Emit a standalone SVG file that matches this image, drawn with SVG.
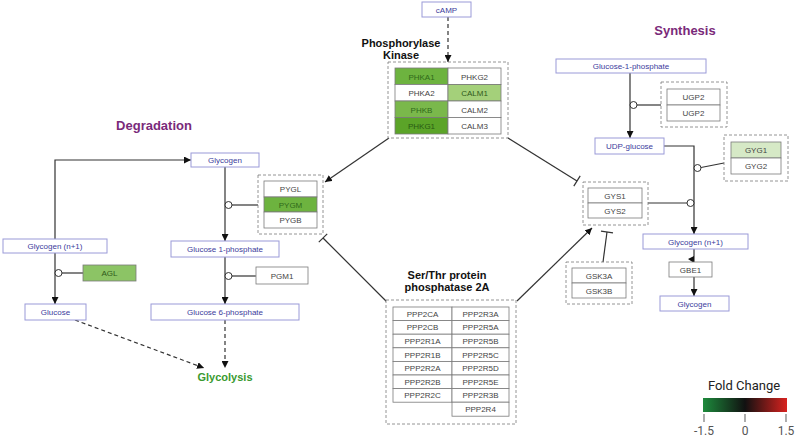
<svg xmlns="http://www.w3.org/2000/svg" width="800" height="444" viewBox="0 0 800 444">
<defs>
<style>
.cpd rect{fill:#fff;stroke:#9a9ad8;stroke-width:1}
.cpd text{font-family:"Liberation Sans",Arial,sans-serif;font-size:8px;fill:#3c3c9c;text-anchor:middle}
.gene rect{fill:#fff;stroke:#7a7a7a;stroke-width:0.8}
.gene text{font-family:"Liberation Sans",Arial,sans-serif;font-size:8px;fill:#444;text-anchor:middle}
.grp{fill:#fbfbf6;stroke:#c6c6b0;stroke-width:1;stroke-dasharray:3,2}
.edge{stroke:#333;stroke-width:1.2;fill:none}
.dash{stroke:#333;stroke-width:1.2;fill:none;stroke-dasharray:4,3}
.circ{fill:#fff;stroke:#333;stroke-width:1}
.title{font-family:"Liberation Sans",Arial,sans-serif;font-weight:bold;fill:#7a2a7a;font-size:13px;text-anchor:middle}
.lbl{font-family:"Liberation Sans",Arial,sans-serif;font-weight:bold;fill:#111;font-size:11px;text-anchor:middle}
.g1{fill:#6db33f !important}
.g2{fill:#5ba428 !important}
.g3{fill:#7ab84b !important}
.g4{fill:#a4d07a !important}
.g5{fill:#8cc465 !important}
.g6{fill:#d6e9c6 !important}
</style>
<marker id="arr" viewBox="0 0 10 10" refX="10" refY="5" markerWidth="7" markerHeight="7" markerUnits="userSpaceOnUse" orient="auto">
<path d="M0,0 L10,5 L0,10 z" fill="#111"/>
</marker>
<linearGradient id="fc" x1="0" y1="0" x2="1" y2="0">
<stop offset="0" stop-color="#1d8a3c"/>
<stop offset="0.5" stop-color="#111"/>
<stop offset="1" stop-color="#d8221f"/>
</linearGradient>
</defs>
<rect width="800" height="444" fill="#fff"/>

<text class="title" x="154" y="130">Degradation</text>
<text class="title" x="685" y="35">Synthesis</text>
<text class="lbl" x="401" y="47">Phosphorylase</text>
<text class="lbl" x="401" y="59">Kinase</text>
<text class="lbl" x="447" y="279">Ser/Thr protein</text>
<text class="lbl" x="447" y="291">phosphatase 2A</text>
<text x="225" y="381" font-family="Liberation Sans, Arial, sans-serif" font-weight="bold" font-size="11" fill="#3a9a30" text-anchor="middle">Glycolysis</text>

<g id="connectors">
<line class="dash" x1="448" y1="17" x2="448" y2="62" marker-end="url(#arr)"/>
<line class="edge" x1="389" y1="138" x2="325" y2="182" marker-end="url(#arr)"/>
<line class="edge" x1="508" y1="138" x2="577" y2="181"/>
<line class="edge" x1="573.8" y1="186.1" x2="580.2" y2="175.9"/>
<line class="edge" x1="387" y1="302" x2="323" y2="238"/>
<line class="edge" x1="327.2" y1="233.8" x2="318.8" y2="242.2"/>
<line class="edge" x1="517" y1="301" x2="592" y2="228" marker-end="url(#arr)"/>
<line class="edge" x1="603" y1="262" x2="607" y2="232"/>
<line class="edge" x1="601" y1="231.2" x2="613" y2="232.8"/>
<!-- degradation -->
<polyline class="edge" points="55,239 55,160 191,160" marker-end="url(#arr)"/>
<line class="edge" x1="55" y1="253" x2="55" y2="304" marker-end="url(#arr)"/>
<line class="edge" x1="62" y1="273" x2="83" y2="273"/>
<circle class="circ" cx="58.5" cy="273" r="3.5"/>
<line class="edge" x1="225" y1="167" x2="225" y2="241" marker-end="url(#arr)"/>
<line class="edge" x1="232" y1="205" x2="258" y2="205"/>
<circle class="circ" cx="228.5" cy="205" r="3.5"/>
<line class="edge" x1="225" y1="257" x2="225" y2="304" marker-end="url(#arr)"/>
<line class="edge" x1="232" y1="276" x2="256" y2="276"/>
<circle class="circ" cx="228.5" cy="276" r="3.5"/>
<line class="dash" x1="75" y1="320" x2="204" y2="368" marker-end="url(#arr)"/>
<line class="dash" x1="225" y1="320" x2="225" y2="368" marker-end="url(#arr)"/>
<!-- synthesis -->
<line class="edge" x1="630" y1="73" x2="630" y2="138" marker-end="url(#arr)"/>
<line class="edge" x1="637" y1="105" x2="661" y2="105"/>
<circle class="circ" cx="633.5" cy="105" r="3.5"/>
<polyline class="edge" points="664,146 694,146 694,234" marker-end="url(#arr)"/>
<line class="edge" x1="701" y1="167.5" x2="724" y2="163"/>
<circle class="circ" cx="697.5" cy="168" r="3.5"/>
<line class="edge" x1="648" y1="203" x2="687" y2="203"/>
<circle class="circ" cx="690.5" cy="203" r="3.5"/>
<line class="edge" x1="694" y1="249" x2="694" y2="262"/>
<polygon points="688,259 694,256 694,263" fill="#111"/>
<line class="edge" x1="694" y1="277" x2="694" y2="296" marker-end="url(#arr)"/>
</g>

<g id="cAMP" class="cpd"><rect x="422" y="2" width="49" height="15"/><text x="446.5" y="12.5">cAMP</text></g>

<g id="phk" class="gene">
<rect class="grp" x="388" y="62" width="120" height="76"/>
<rect class="g1" x="395" y="68" width="53" height="16.5"/><text x="421.5" y="79.5" style="fill:#2f6a1a">PHKA1</text>
<rect x="448" y="68" width="53" height="16.5"/><text x="474.5" y="79.5">PHKG2</text>
<rect x="395" y="84.5" width="53" height="16.5"/><text x="421.5" y="96">PHKA2</text>
<rect class="g4" x="448" y="84.5" width="53" height="16.5"/><text x="474.5" y="96" style="fill:#2f5a1a">CALM1</text>
<rect class="g3" x="395" y="101" width="53" height="16.5"/><text x="421.5" y="112.5" style="fill:#2f6a1a">PHKB</text>
<rect x="448" y="101" width="53" height="16.5"/><text x="474.5" y="112.5">CALM2</text>
<rect class="g2" x="395" y="117.5" width="53" height="16.5"/><text x="421.5" y="129" style="fill:#2a5a14">PHKG1</text>
<rect x="448" y="117.5" width="53" height="16.5"/><text x="474.5" y="129">CALM3</text>
</g>

<g id="pyg" class="gene">
<rect class="grp" x="258" y="175" width="65" height="59"/>
<rect x="264" y="181" width="53" height="16"/><text x="290.5" y="192">PYGL</text>
<rect class="g1" x="264" y="197" width="53" height="15"/><text x="290.5" y="207.5" style="fill:#2f6a1a">PYGM</text>
<rect x="264" y="212" width="53" height="16"/><text x="290.5" y="223">PYGB</text>
</g>

<g id="pp2a" class="gene">
<rect class="grp" x="386" y="300" width="130" height="124"/>
<rect x="393" y="307" width="59" height="13.6"/><text x="422.5" y="316.8">PPP2CA</text>
<rect x="452" y="307" width="57" height="13.6"/><text x="480.5" y="316.8">PPP2R3A</text>
<rect x="393" y="320.6" width="59" height="13.6"/><text x="422.5" y="330.4">PPP2CB</text>
<rect x="452" y="320.6" width="57" height="13.6"/><text x="480.5" y="330.4">PPP2R5A</text>
<rect x="393" y="334.2" width="59" height="13.6"/><text x="422.5" y="344">PPP2R1A</text>
<rect x="452" y="334.2" width="57" height="13.6"/><text x="480.5" y="344">PPP2R5B</text>
<rect x="393" y="347.8" width="59" height="13.6"/><text x="422.5" y="357.6">PPP2R1B</text>
<rect x="452" y="347.8" width="57" height="13.6"/><text x="480.5" y="357.6">PPP2R5C</text>
<rect x="393" y="361.4" width="59" height="13.6"/><text x="422.5" y="371.2">PPP2R2A</text>
<rect x="452" y="361.4" width="57" height="13.6"/><text x="480.5" y="371.2">PPP2R5D</text>
<rect x="393" y="375" width="59" height="13.6"/><text x="422.5" y="384.8">PPP2R2B</text>
<rect x="452" y="375" width="57" height="13.6"/><text x="480.5" y="384.8">PPP2R5E</text>
<rect x="393" y="388.6" width="59" height="13.6"/><text x="422.5" y="398.4">PPP2R2C</text>
<rect x="452" y="388.6" width="57" height="13.6"/><text x="480.5" y="398.4">PPP2R3B</text>
<rect x="452" y="402.2" width="57" height="14"/><text x="480.5" y="412.2">PPP2R4</text>
</g>

<g id="gys" class="gene">
<rect class="grp" x="583" y="182" width="65" height="43"/>
<rect x="588" y="188" width="54" height="15"/><text x="615" y="198.5">GYS1</text>
<rect x="588" y="203" width="54" height="15"/><text x="615" y="213.5">GYS2</text>
</g>
<g id="gsk" class="gene">
<rect class="grp" x="566" y="262" width="66" height="42"/>
<rect x="572" y="268" width="54" height="15"/><text x="599" y="278.5">GSK3A</text>
<rect x="572" y="283" width="54" height="15"/><text x="599" y="293.5">GSK3B</text>
</g>
<g id="ugp" class="gene">
<rect class="grp" x="661" y="82" width="66" height="45"/>
<rect x="667" y="89" width="53" height="16"/><text x="693.5" y="100">UGP2</text>
<rect x="667" y="105" width="53" height="16"/><text x="693.5" y="116">UGP2</text>
</g>
<g id="gyg" class="gene">
<rect class="grp" x="724" y="135" width="64" height="46"/>
<rect class="g6" x="731" y="142" width="50" height="16"/><text x="756" y="153">GYG1</text>
<rect x="731" y="158" width="50" height="16"/><text x="756" y="169">GYG2</text>
</g>
<g id="agl" class="gene"><rect class="g5" x="83" y="265" width="53" height="16"/><text x="109.5" y="276" style="fill:#2f5a1a">AGL</text></g>
<g id="pgm1" class="gene"><rect x="256" y="267" width="52" height="17"/><text x="282" y="278.5">PGM1</text></g>
<g id="gbe1" class="gene"><rect x="669" y="262" width="43" height="15"/><text x="690.5" y="272.5">GBE1</text></g>

<g id="glycogen_l" class="cpd"><rect x="191" y="153" width="68" height="14"/><text x="225" y="163">Glycogen</text></g>
<g id="glycogen_n1_l" class="cpd"><rect x="3" y="239" width="104" height="14"/><text x="55" y="249">Glycogen (n+1)</text></g>
<g id="g1p_l" class="cpd"><rect x="171" y="241" width="108" height="16"/><text x="225" y="252">Glucose 1-phosphate</text></g>
<g id="glucose" class="cpd"><rect x="25" y="304" width="61" height="16"/><text x="55.5" y="315">Glucose</text></g>
<g id="g6p" class="cpd"><rect x="151" y="304" width="148" height="16"/><text x="225" y="315">Glucose 6-phosphate</text></g>
<g id="g1p_r" class="cpd"><rect x="556" y="59" width="150" height="14"/><text x="631" y="69">Glucose-1-phosphate</text></g>
<g id="udpg" class="cpd"><rect x="595" y="138" width="69" height="16"/><text x="629.5" y="149">UDP-glucose</text></g>
<g id="glycogen_n1_r" class="cpd"><rect x="643" y="234" width="105" height="15"/><text x="695.5" y="244.5">Glycogen (n+1)</text></g>
<g id="glycogen_r" class="cpd"><rect x="660" y="296" width="69" height="15"/><text x="694.5" y="306.5">Glycogen</text></g>

<g id="legend">
<text x="744" y="390" font-family="Roboto, Liberation Sans, sans-serif" font-size="13" fill="#222" text-anchor="middle">Fold Change</text>
<rect x="703" y="398" width="84" height="14" fill="url(#fc)"/>
<g stroke="#777" stroke-width="1.2"><line x1="704" y1="414" x2="704" y2="422"/><line x1="745" y1="414" x2="745" y2="422"/><line x1="786" y1="414" x2="786" y2="422"/></g>
<g font-family="Roboto, Liberation Sans, sans-serif" font-size="12" fill="#555" text-anchor="middle">
<text x="704" y="435">-1.5</text><text x="745" y="435">0</text><text x="786" y="435">1.5</text>
</g>
</g>
</svg>
